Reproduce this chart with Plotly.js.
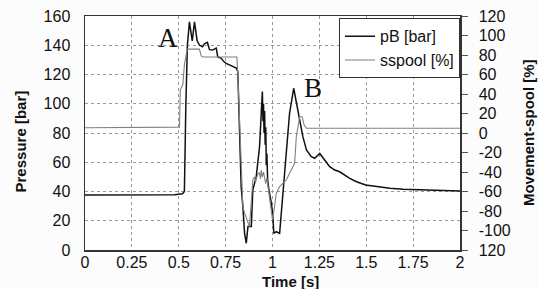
<!DOCTYPE html>
<html>
<head>
<meta charset="utf-8">
<script src="https://cdn.plot.ly/plotly-3.0.1.min.js"></script>
<style>html,body{margin:0;padding:0;background:#fcfcfc;}#chart{width:538px;height:289px;}</style>
</head>
<body>
<div id="chart"></div>
<script>
// Pressure pB [bar] vs time [s]
const tPB = [0, 0.343, 0.477, 0.52, 0.53, 0.538, 0.546, 0.557, 0.572, 0.584, 0.598, 0.611, 0.627, 0.637, 0.653, 0.664, 0.680, 0.700, 0.708, 0.727, 0.739, 0.753, 0.771, 0.787, 0.807, 0.815, 0.824, 0.833, 0.842, 0.851, 0.860, 0.869, 0.887, 0.895, 0.913, 0.931, 0.940, 0.946, 0.949, 0.952, 0.955, 0.958, 0.961, 0.964, 0.967, 0.970, 0.974, 0.981, 0.994, 1.002, 1.007, 1.020, 1.038, 1.056, 1.074, 1.091, 1.113, 1.136, 1.162, 1.181, 1.207, 1.225, 1.252, 1.278, 1.305, 1.332, 1.358, 1.412, 1.448, 1.497, 1.555, 1.626, 1.697, 1.786, 1.875, 2.0];
const pB  = [37.6, 37.6, 37.8, 38.5, 40, 100, 140, 156, 143, 156, 143, 140, 139, 141, 142, 137, 136.7, 138, 132, 131, 129, 127.6, 126.5, 126, 124.4, 122, 73, 43, 29.6, 11.6, 4.6, 16, 16, 41, 50, 70.6, 93.5, 108.3, 88, 100, 80, 95, 72, 84, 58, 66, 48, 41, 32, 22.8, 11.4, 12.5, 11.4, 41, 66, 93.5, 110.6, 95.7, 77.5, 68.4, 63.8, 62.7, 66, 61.5, 57, 54.7, 53.5, 49, 46.7, 44.5, 43.3, 42.2, 41.5, 41, 40.6, 40.3];

// Spool movement sspool [%] vs time [s]
const tSP = [0, 0.50, 0.504, 0.508, 0.515, 0.522, 0.53, 0.545, 0.61, 0.62, 0.63, 0.81, 0.815, 0.822, 0.83, 0.842, 0.851, 0.869, 0.877, 0.887, 0.895, 0.904, 0.910, 0.915, 0.922, 0.93, 0.936, 0.94, 0.946, 0.952, 0.958, 0.964, 0.970, 0.976, 0.985, 0.994, 1.0, 1.011, 1.02, 1.038, 1.056, 1.074, 1.1, 1.118, 1.127, 1.136, 1.145, 1.158, 1.169, 1.181, 2.0];
const sspool = [5.4, 5.4, 6, 44, 48, 50, 70, 86, 86, 79, 78, 78, 60, 20, -30, -75.6, -82, -92, -96, -70, -48, -44.8, -50, -46, -42, -41, -47, -38, -45, -40, -48, -52, -46, -55, -65, -82, -89, -75.6, -62, -55, -51.6, -48, -38, -31, -3.8, 8.2, 16.7, 16.7, 8.2, 4.8, 4.8];

const leftTicks = [0, 20, 40, 60, 80, 100, 120, 140, 160];
const rightTicks = [-120, -100, -80, -60, -40, -20, 0, 20, 40, 60, 80, 100, 120];
const rightTickText = ['120', '-100', '-80', '-60', '-40', '-20', '0', '20', '40', '60', '80', '100', '120'];
const xTicks = [0, 0.25, 0.5, 0.75, 1, 1.25, 1.5, 1.75, 2];
const xTickText = ['0', '0.25', '0.5', '0.75', '1', '1.25', '1.5', '1.75', '2'];

const font = 'Liberation Sans, Arial, sans-serif';
const serif = 'Liberation Serif, Times New Roman, serif';

const traces = [
  {x: tPB, y: pB, name: 'pB [bar]', type: 'scatter', mode: 'lines', line: {color: '#111', width: 1.5}, yaxis: 'y'},
  {x: tSP, y: sspool, name: 'sspool [%]', type: 'scatter', mode: 'lines', line: {color: '#808080', width: 1.1}, yaxis: 'y2'}
];

const layout = {
  width: 538, height: 289,
  margin: {l: 85, r: 78, t: 16, b: 39},
  paper_bgcolor: '#fcfcfc',
  plot_bgcolor: '#ffffff',
  showlegend: true,
  font: {family: font, size: 16, color: '#111'},
  xaxis: {
    range: [0, 2], tickvals: xTicks, ticktext: xTickText,
    showgrid: true, gridcolor: '#999', griddash: 'dot', gridwidth: 1,
    showline: true, linecolor: '#333', linewidth: 1.5, mirror: true,
    ticks: '', zeroline: false, ticklabelstandoff: -3,
    tickfont: {family: font, size: 16, color: '#111'}
  },
  yaxis: {
    range: [0, 160], tickvals: leftTicks,
    showgrid: true, gridcolor: '#999', griddash: 'dot', gridwidth: 1,
    showline: true, linecolor: '#333', linewidth: 1.5,
    ticks: '', zeroline: false, ticklabelstandoff: 10,
    tickfont: {family: font, size: 16, color: '#111'}
  },
  yaxis2: {
    range: [-120, 120], tickvals: rightTicks, ticktext: rightTickText,
    overlaying: 'y', side: 'right', showgrid: false, zeroline: false,
    showline: true, linecolor: '#333', linewidth: 1.5,
    ticks: 'outside', ticklen: 6, tickcolor: '#555', tickwidth: 1,
    ticklabelstandoff: 8,
    tickfont: {family: font, size: 16, color: '#111'}
  },
  legend: {
    x: 1, xanchor: 'right', y: 0.99, yanchor: 'top',
    bgcolor: '#ffffff', bordercolor: '#333', borderwidth: 1,
    font: {family: font, size: 16, color: '#111'},
    tracegroupgap: 0, itemwidth: 30
  },
  annotations: [
    {x: 0.44, y: 145, xref: 'x', yref: 'y', text: 'A', showarrow: false, font: {family: serif, size: 27, color: '#111'}},
    {x: 1.214, y: 111, xref: 'x', yref: 'y', text: 'B', showarrow: false, font: {family: serif, size: 27, color: '#111'}},
    {x: -0.1707, y: 0.4637, xref: 'paper', yref: 'paper', xanchor: 'center', yanchor: 'middle', text: '<b>Pressure [bar]</b>', textangle: -90, showarrow: false, font: {family: font, size: 15, color: '#111'}},
    {x: 1.1813, y: 0.504, xref: 'paper', yref: 'paper', xanchor: 'center', yanchor: 'middle', text: '<b>Movement-spool [%]</b>', textangle: -90, showarrow: false, font: {family: font, size: 15, color: '#111'}},
    {x: 0.549, y: -0.1325, xref: 'paper', yref: 'paper', xanchor: 'center', yanchor: 'middle', text: '<b>Time [s]</b>', showarrow: false, font: {family: font, size: 15, color: '#111'}}
  ]
};

Plotly.newPlot('chart', traces, layout, {displayModeBar: false, staticPlot: true});
</script>
</body>
</html>
